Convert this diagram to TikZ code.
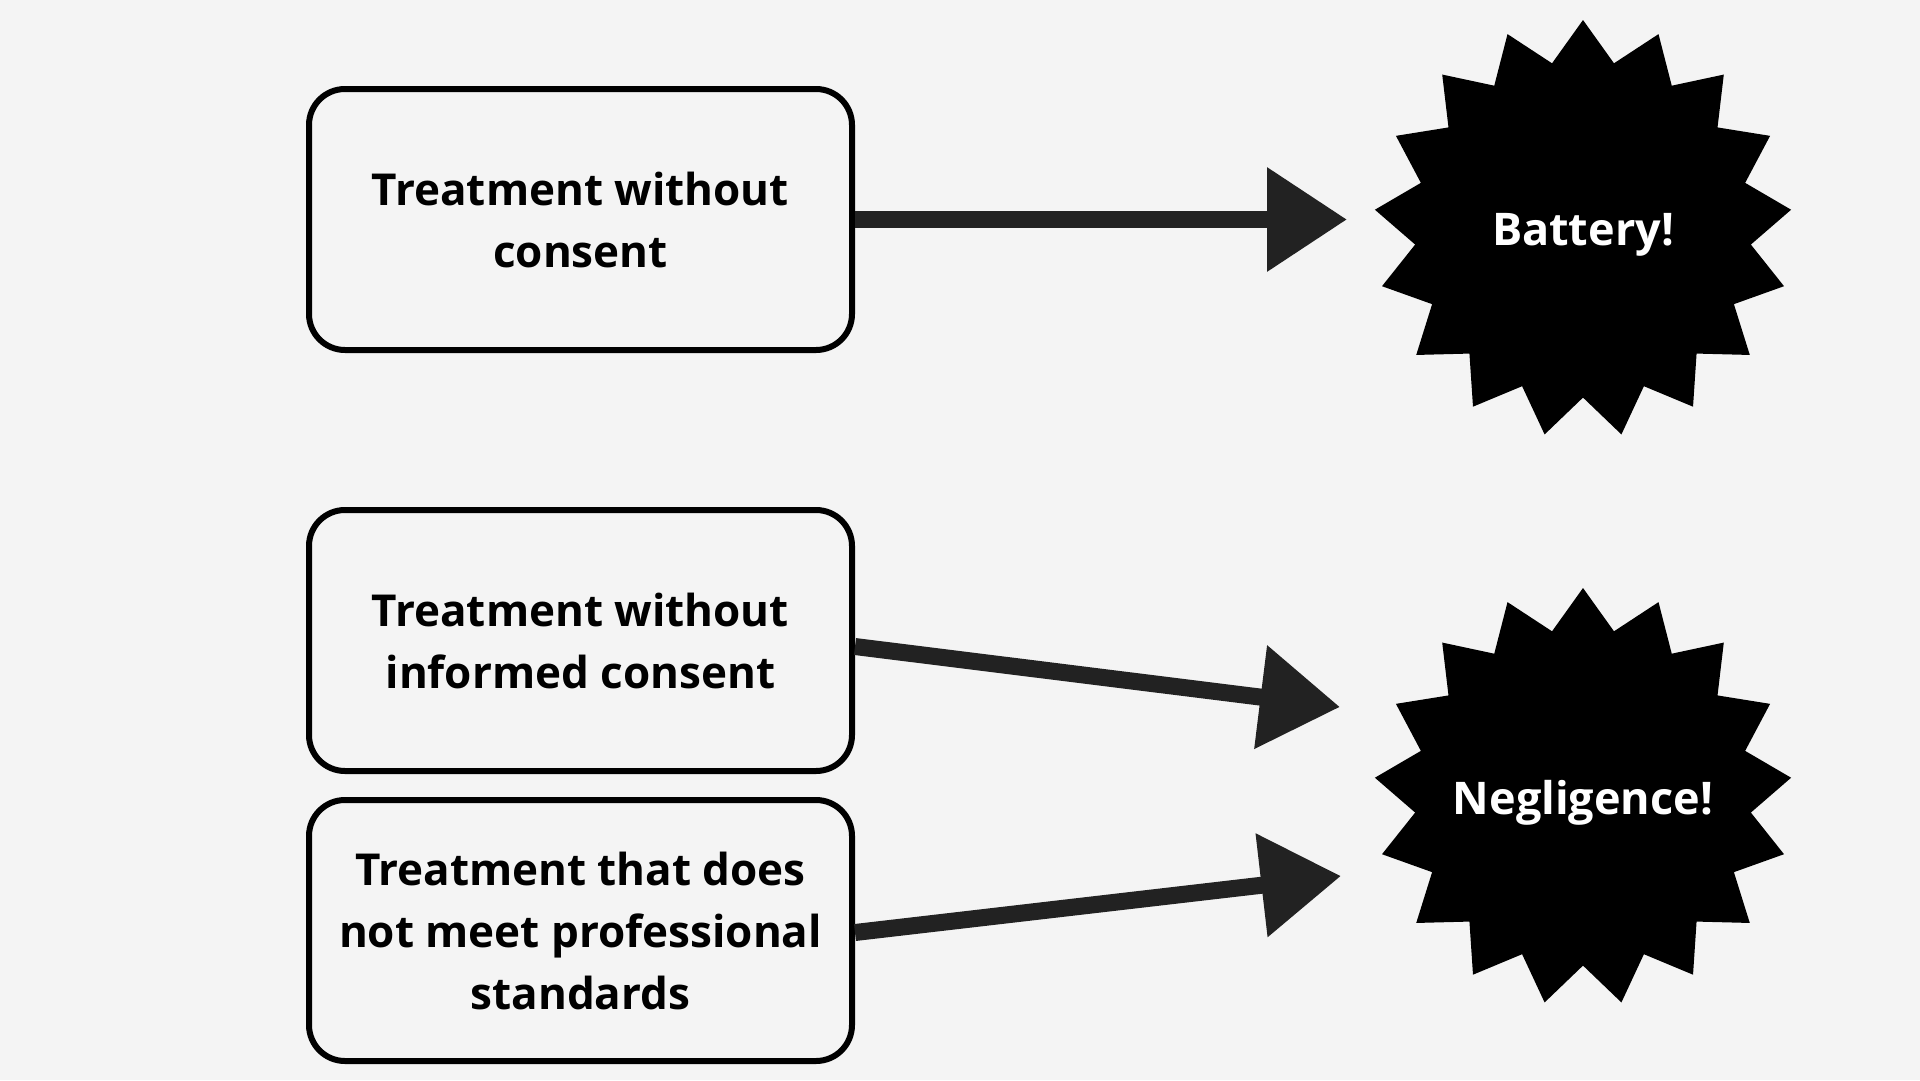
\documentclass[tikz,border=0pt]{standalone}
\usepackage{fontspec}
\setmainfont{Open Sans}
\usepackage{tikz}
\usetikzlibrary{arrows.meta,shapes}
\definecolor{paper}{HTML}{F4F4F4}
\definecolor{ink}{HTML}{222222}
\tikzstyle{box}=[rectangle, draw
,rounded corners=36pt
,line width=6pt
,minimum width=543pt, minimum height=261pt
,fill=paper, align=center
,font=\bfseries\fontsize{44}{62}\selectfont
]
\tikzstyle{burst}=[star, star points=17, star point ratio=1.24
,minimum size=418pt, inner sep=0pt
,fill=black
]
\tikzstyle{burst text}=[text=white, text depth=0pt, inner sep=0pt
,font=\bfseries\fontsize{45}{50}\selectfont
]
\tikzstyle{edge} = [draw, ink, line width=17pt, -{Triangle[length=80pt,width=100pt]}]

\begin{document}
\begin{tikzpicture}[x=1pt,y=-1pt]
    % the page
    \fill[paper] (0,0) rectangle (1920,1080);
    % First we draw the boxes
    \foreach \pos/\name/\txt in {{(580.5,219.5)/nocons/Treatment without\\consent}, {(580.5,640.5)/informed/Treatment without\\informed consent}, {(580.5,930.5)/standards/Treatment that does\\not meet professional\\standards}}
        \node[box] (\name) at \pos {\txt};

    % then the two bursts
    \node[burst, label={[burst text]center:Battery!}] (battery) at (1583,229) {};
    \node[burst, label={[burst text]center:Negligence!}] (negligence) at (1583,797) {};

    % where the arrows stop
    \coordinate (battery_in) at (1347,219.5);
    \coordinate (negligence_in1) at (1340,707);
    \coordinate (negligence_in2) at (1341,876);

    % Connect boxes with arrows
    \foreach \source/\sh/\dest in {nocons/0pt/battery_in, informed/-6pt/negligence_in1, standards/-2pt/negligence_in2}
        \path[edge] ([yshift=\sh]\source.east) -- (\dest) ;

\end{tikzpicture}
\end{document}
